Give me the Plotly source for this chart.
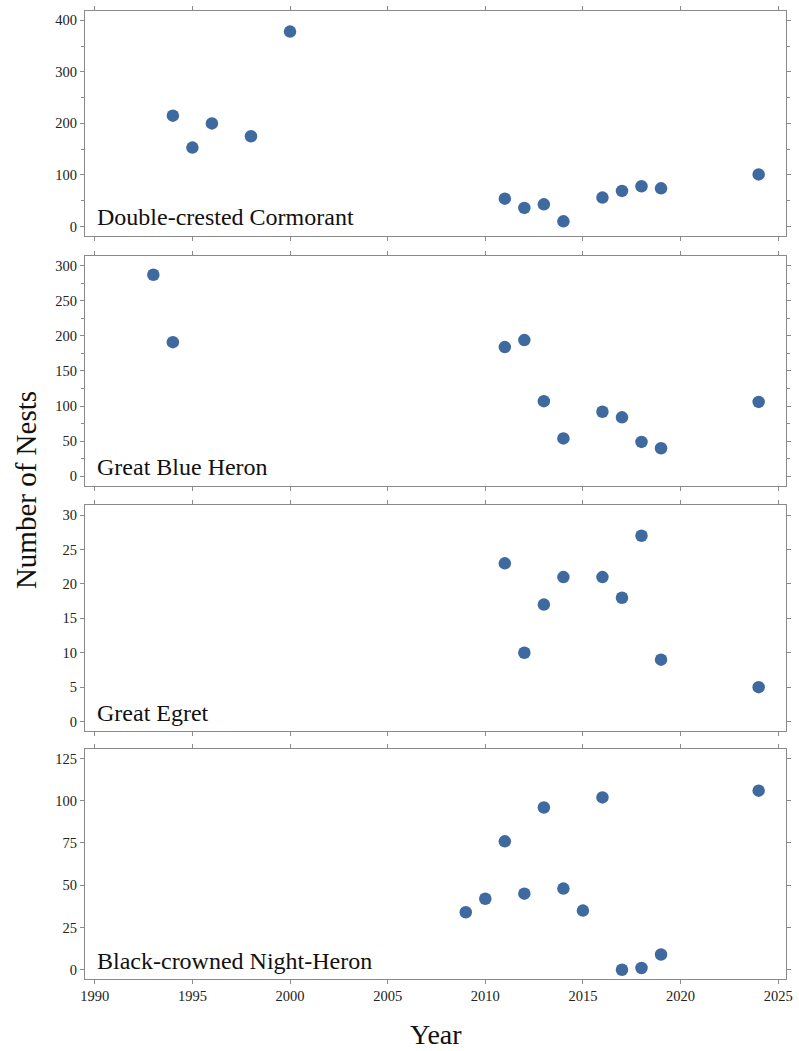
import plotly.graph_objects as go

# ---- data ----
species = ["Double-crested Cormorant", "Great Blue Heron", "Great Egret", "Black-crowned Night-Heron"]

dcco_years = [1994, 1995, 1996, 1998, 2000, 2011, 2012, 2013, 2014, 2016, 2017, 2018, 2019, 2024]
dcco_nests = [215, 153, 200, 175, 378, 54, 36, 43, 10, 56, 69, 78, 74, 101]

gbhe_years = [1993, 1994, 2011, 2012, 2013, 2014, 2016, 2017, 2018, 2019, 2024]
gbhe_nests = [287, 191, 184, 194, 107, 54, 92, 84, 49, 40, 106]

greg_years = [2011, 2012, 2013, 2014, 2016, 2017, 2018, 2019, 2024]
greg_nests = [23, 10, 17, 21, 21, 18, 27, 9, 5]

bcnh_years = [2009, 2010, 2011, 2012, 2013, 2014, 2015, 2016, 2017, 2018, 2019, 2024]
bcnh_nests = [34, 42, 76, 45, 96, 48, 35, 102, 0, 1, 9, 106]

x_ticks = [1990, 1995, 2000, 2005, 2010, 2015, 2020, 2025]
y_ranges = [[-18, 418], [-13, 314], [-1.4, 31.4], [-5.5, 130.5]]
y_dticks = [100, 50, 5, 25]
y_minor = [50, 25, None, None]

series = [(dcco_years, dcco_nests), (gbhe_years, gbhe_nests),
          (greg_years, greg_nests), (bcnh_years, bcnh_nests)]

# ---- layout constants ----
W, H = 799, 1051
ML, MR, MT, MB = 85, 6, 10, 72
plot_h = H - MT - MB
panel_px = [(10, 235), (255, 485), (505, 731), (749, 979)]

def dom(top, bot):
    return [(H - MB - bot) / plot_h, (H - MB - top) / plot_h]

FONT = "Liberation Serif, Times New Roman, serif"
MARK = "#3f6a9f"
AX = "#8a8a8a"

fig = go.Figure()
for i, ((xs, ys), name) in enumerate(zip(series, species)):
    n = i + 1
    xa = "x" if n == 1 else f"x{n}"
    ya = "y" if n == 1 else f"y{n}"
    fig.add_trace(go.Scatter(x=xs, y=ys, mode="markers", name=name,
                             marker=dict(size=12.5, color=MARK),
                             xaxis=xa, yaxis=ya, showlegend=False))
    xkey = "xaxis" if n == 1 else f"xaxis{n}"
    ykey = "yaxis" if n == 1 else f"yaxis{n}"
    xaxis = dict(range=[1989.5, 2025.4], tickvals=x_ticks,
                 showticklabels=(n == 4), ticks="outside", ticklen=4,
                 tickcolor=AX, showline=True, linecolor=AX, linewidth=1,
                 mirror="ticks", showgrid=False, zeroline=False,
                 tickfont=dict(family=FONT, size=14.5, color="#222"),
                 anchor=ya, domain=[0, 1])
    if n != 1:
        xaxis["matches"] = "x"
    yaxis = dict(range=y_ranges[i], dtick=y_dticks[i], tick0=0,
                 ticks="outside", ticklen=4, tickcolor=AX,
                 showline=True, linecolor=AX, linewidth=1, mirror="ticks",
                 showgrid=False, zeroline=False,
                 tickfont=dict(family=FONT, size=14.5, color="#222"),
                 anchor=xa, domain=dom(*panel_px[i]))
    if y_minor[i]:
        yaxis["minor"] = dict(dtick=y_minor[i], tick0=0, ticks="outside",
                              ticklen=3, tickcolor=AX, showgrid=False)
    fig.layout[xkey] = xaxis
    fig.layout[ykey] = yaxis
    fig.add_annotation(text=name, xref=f"{xa} domain", yref=f"{ya} domain",
                       x=0.014, y=0.015, xanchor="left", yanchor="bottom",
                       showarrow=False,
                       font=dict(family=FONT, size=24, color="#111"))

fig.add_annotation(text="Number of Nests", xref="paper", yref="paper",
                   x=(25 - ML) / (W - ML - MR), y=(H - MB - 490) / plot_h,
                   xanchor="center", yanchor="middle", textangle=-90,
                   showarrow=False, font=dict(family=FONT, size=29, color="#111"))
fig.add_annotation(text="Year", xref="paper", yref="paper",
                   x=(440 - ML) / (W - ML - MR), y=(H - MB - 1035) / plot_h,
                   xanchor="center", yanchor="middle",
                   showarrow=False, font=dict(family=FONT, size=28, color="#111"))

fig.update_layout(width=W, height=H, margin=dict(l=ML, r=MR, t=MT, b=MB),
                  paper_bgcolor="white", plot_bgcolor="white",
                  font=dict(family=FONT))

fig.write_html("out.html", config={"displayModeBar": False},
               post_script="document.body.style.margin='0px';document.body.style.overflow='hidden';")
